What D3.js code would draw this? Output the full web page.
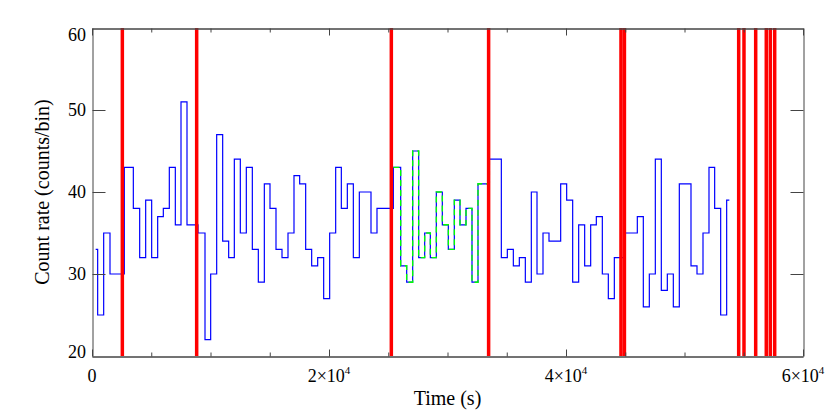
<!DOCTYPE html>
<html>
<head>
<meta charset="utf-8">
<script src="https://cdn.jsdelivr.net/npm/d3@7"></script>
<style>
  body { margin: 0; background: #fff; }
  text { font-family: "Liberation Serif", "DejaVu Serif", serif; fill: #000; }
</style>
</head>
<body>
<svg width="830" height="415"></svg>
<script>
// light curve: start time of each bin (s) and counts in that bin
var binStart = [310, 478, 985, 1519, 2728, 3488, 4023, 4529, 5035, 5542,
    6019, 6525, 7032, 7511, 8017, 8945, 9536, 10014, 10521, 11027,
    11533, 12011, 12517, 13023, 13530, 14036, 14543, 15021, 15527, 16034,
    16540, 17046, 17524, 18031, 18537, 19044, 19550, 20056, 20563, 21041,
    21547, 22054, 22560, 23544, 24050, 25430, 26049, 26555, 27061, 27567,
    28073, 28552, 29058, 29564, 30070, 30577, 31055, 31561, 32067, 32574,
    33530, 34543, 35049, 35556, 36062, 36568, 37074, 37553, 38059, 38565,
    39550, 40056, 40563, 41069, 41575, 42082, 42560, 43066, 43572, 44079,
    44950, 46019, 46525, 47032, 47538, 48044, 48551, 49057, 49563, 50548,
    51055, 51561, 52067, 52545, 53052, 53558];
var counts = [33, 25, 35, 30, 43, 38, 32, 39, 32, 37,
    38, 43, 36, 51, 36, 35, 22, 30, 47, 34,
    32, 44, 35, 43, 33, 29, 41, 38, 33, 32,
    35, 42, 41, 33, 31, 32, 27, 35, 43, 38,
    41, 32, 40, 35, 38, 43, 31, 29, 45, 32,
    35, 32, 40, 36, 33, 39, 36, 38, 29, 41,
    44, 32, 33, 31, 32, 29, 40, 30, 35, 34,
    41, 39, 29, 36, 31, 36, 37, 30, 27, 32,
    35, 37, 26, 30, 44, 28, 30, 26, 41, 31,
    30, 35, 43, 38, 25, 39];
var lastBinEnd = 53783;

// highlighted stretch (green dashed), bin indices
var hiFirst = 45, hiLast = 59;

// red markers (s)
var markers = [2560, 8833, 25260, 33470, 44640, 44930,
    54573, 55020, 56008, 56902, 57240, 57611];

var yTicks = [20, 30, 40, 50, 60];
var xMajor = [0, 20000, 40000, 60000];
var xMant = ['0', '2', '4', '6'];

var svg = d3.select('svg');
svg.append('rect').attr('width', 830).attr('height', 415).attr('fill', '#fff');

var x = d3.scaleLinear().domain([0, 60000]).range([92, 803]);
var y = d3.scaleLinear().domain([20, 60]).range([356, 28]);

var pts = binStart.map(function(t, i) { return [t, counts[i]]; });
pts.push([lastBinEnd, counts[counts.length - 1]]);

var line = d3.line()
    .x(function(d) { return x(d[0]); })
    .y(function(d) { return y(d[1]); })
    .curve(d3.curveStepAfter);

svg.append('path')
    .attr('d', line(pts))
    .attr('fill', 'none')
    .attr('stroke', '#0000ff')
    .attr('stroke-width', 1.2);

var hiPts = pts.slice(hiFirst, hiLast + 1);
hiPts.push([binStart[hiLast + 1], counts[hiLast + 1]]);
svg.append('path')
    .attr('d', line(hiPts))
    .attr('fill', 'none')
    .attr('stroke', '#00ff00')
    .attr('stroke-width', 1.4)
    .attr('stroke-dasharray', '6,4');

svg.selectAll('.marker')
    .data(markers)
    .enter()
    .append('line')
    .attr('class', 'marker')
    .attr('x1', function(d) { return x(d); })
    .attr('x2', function(d) { return x(d); })
    .attr('y1', y(60))
    .attr('y2', y(20))
    .attr('stroke', '#ff0000')
    .attr('stroke-width', 3.5);

// axes (ticks point inward, labels drawn separately)
var axisCol = '#444';
function styleAxis(g) {
    g.selectAll('path, line').attr('stroke', axisCol);
    g.selectAll('text').remove();
}
var minor = d3.range(5000, 60000, 5000).filter(function(v) { return v % 20000 !== 0; });

svg.append('g').attr('transform', 'translate(0,356.5)')
    .call(d3.axisBottom(x).tickValues(xMajor).tickSize(-7).tickSizeOuter(0))
    .call(styleAxis);
svg.append('g').attr('transform', 'translate(0,356.5)')
    .call(d3.axisBottom(x).tickValues(minor).tickSize(-4).tickSizeOuter(0))
    .call(styleAxis);
svg.append('g').attr('transform', 'translate(0,28.5)')
    .call(d3.axisTop(x).tickValues(xMajor).tickSize(-7).tickSizeOuter(0))
    .call(styleAxis);
svg.append('g').attr('transform', 'translate(0,28.5)')
    .call(d3.axisTop(x).tickValues(minor).tickSize(-4).tickSizeOuter(0))
    .call(styleAxis);
svg.append('g').attr('transform', 'translate(92.5,0)')
    .call(d3.axisLeft(y).tickValues([30, 40, 50]).tickSize(-13).tickSizeOuter(0))
    .call(styleAxis);
svg.append('g').attr('transform', 'translate(803.5,0)')
    .call(d3.axisRight(y).tickValues([30, 40, 50]).tickSize(-13).tickSizeOuter(0))
    .call(styleAxis);

// y tick labels, end labels kept inside the frame
svg.selectAll('.ylab')
    .data(yTicks)
    .enter()
    .append('text')
    .attr('class', 'ylab')
    .attr('x', 86)
    .attr('y', function(d) {
        if (d === 60) return y(d) + 12.5;
        if (d === 20) return y(d) + 1.5;
        return y(d) + 6;
    })
    .attr('text-anchor', 'end')
    .attr('font-size', 18)
    .text(function(d) { return d; });

// x tick labels with superscript exponent
var xl = svg.selectAll('.xlab')
    .data(xMajor)
    .enter()
    .append('text')
    .attr('class', 'xlab')
    .attr('x', function(d) { return x(d); })
    .attr('y', 382)
    .attr('text-anchor', 'middle')
    .attr('font-size', 18);
xl.append('tspan').text(function(d, i) { return i === 0 ? xMant[i] : xMant[i] + '\u00d710'; });
xl.filter(function(d, i) { return i > 0; })
    .append('tspan')
    .attr('dy', -8)
    .attr('font-size', 11)
    .text('4');

svg.append('text')
    .attr('x', 447.5)
    .attr('y', 405)
    .attr('text-anchor', 'middle')
    .attr('font-size', 20)
    .text('Time (s)');

svg.append('text')
    .attr('transform', 'translate(49,192) rotate(-90)')
    .attr('text-anchor', 'middle')
    .attr('font-size', 20)
    .text('Count rate (counts/bin)');
</script>
</body>
</html>
